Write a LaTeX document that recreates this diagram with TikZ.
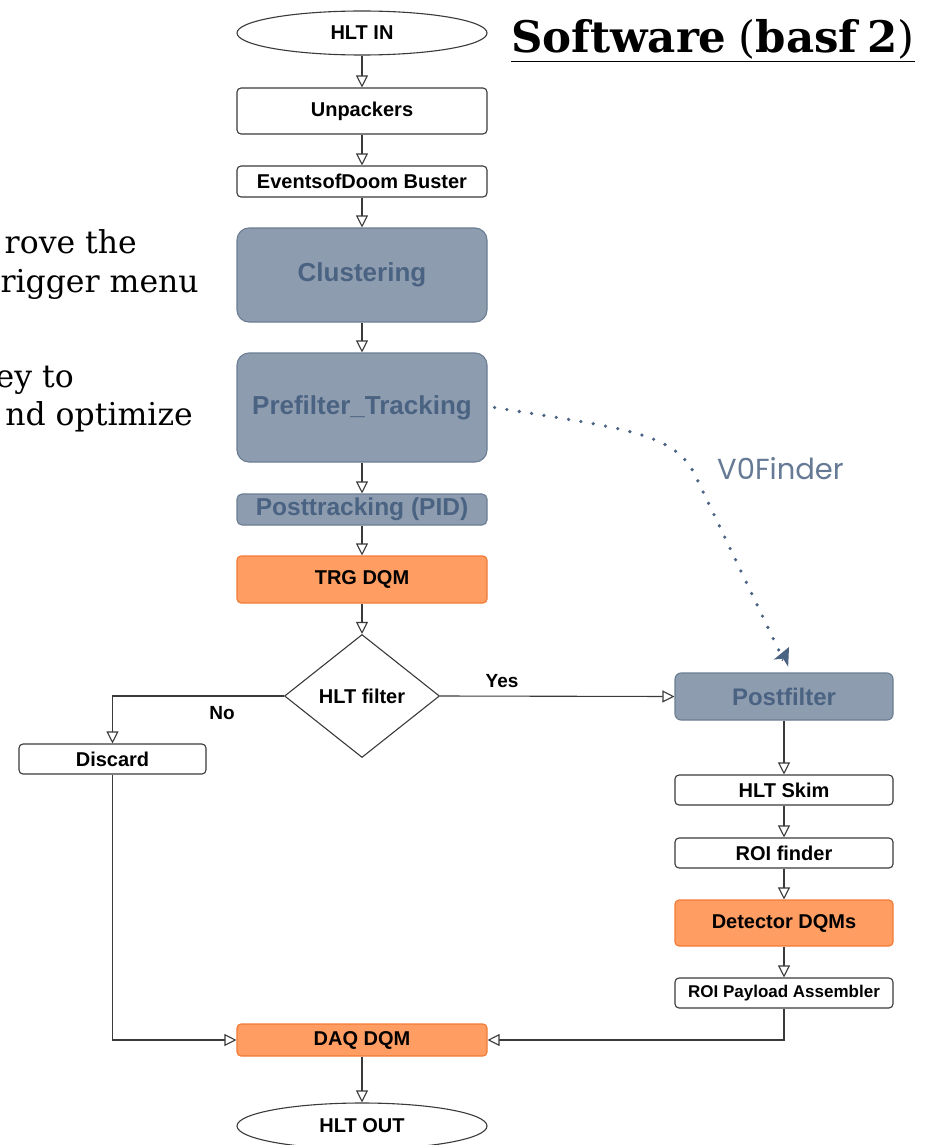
\documentclass[tikz,border=0pt]{standalone}
\usepackage{fontspec}
\setmainfont{Liberation Sans}
\newfontfamily\serifface{DejaVu Serif}
\newfontfamily\roundface{Poppins}
\usetikzlibrary{arrows.meta,shapes.geometric}

\definecolor{bluefill}{HTML}{8E9CAF}
\definecolor{blueline}{HTML}{6B7D93}
\definecolor{bluetext}{HTML}{4B6382}
\definecolor{orangefill}{HTML}{FF9D62}
\definecolor{orangeline}{HTML}{F27B36}
\definecolor{linegray}{HTML}{3A3A3A}

\tikzset{
  base/.style={draw=linegray, line width=1.1pt, fill=white, inner sep=0pt,
    font=\bfseries\fontsize{20}{20}\selectfont},
  plainbox/.style={base, rectangle, rounded corners=4pt, minimum width=250pt},
  bluebox/.style={plainbox, fill=bluefill, draw=blueline, text=bluetext,
    rounded corners=12pt, font=\bfseries\fontsize{26}{26}\selectfont},
  orangebox/.style={plainbox, fill=orangefill, draw=orangeline},
  sidebox/.style={plainbox, minimum width=218pt},
  terminal/.style={base, ellipse, minimum width=250pt},
  decision/.style={base, diamond, minimum width=155pt, minimum height=123pt},
  flow/.style={draw=linegray, line width=1.1pt,
    -{Triangle[open, length=12pt, width=12pt, fill=white]}},
  lbl/.style={font=\bfseries\fontsize{19}{19}\selectfont},
  slidetext/.style={font=\serifface\fontsize{31.5}{38}\selectfont, anchor=base east, inner sep=0pt},
}

\begin{document}
\begin{tikzpicture}[x=1pt, y=-1pt]
\useasboundingbox (0,0) rectangle (933,1145);
\clip (0,0) rectangle (933,1145);

% slide text on the left, running off the edge
\node[slidetext] (t1) at (137,253) {rove the};
\node[slidetext] (t2) at (199,292) {rigger menu};
\node[slidetext] (t3) at (74,387) {ey to};
\node[slidetext] (t4) at (193,425) {nd optimize};

% heading
\node[anchor=base west, inner sep=0pt] (title) at (511,53)
  {\serifface\bfseries\fontsize{43.5}{44}\selectfont\underline{Software\hbox to 12pt{}{\mdseries(}basf\hbox to 10pt{}2{\mdseries)}}};

% main chain
\node[terminal, minimum height=44pt] (hltin) at (362,33) {HLT IN};
\node[plainbox, minimum height=46pt] (unp) at (362,111) {Unpackers};
\node[plainbox, minimum height=31pt] (eod) at (362,181.5) {EventsofDoom Buster};
\node[bluebox, minimum height=94pt] (clus) at (362,275) {Clustering};
\node[bluebox, minimum height=109pt] (pre) at (362,407.5) {Prefilter\_Tracking};
\node[bluebox, minimum height=31pt, rounded corners=5pt,
      font=\bfseries\fontsize{24.5}{24.5}\selectfont] (ptr) at (362,509.5) {Posttracking (PID)};
\node[orangebox, minimum height=47pt] (trg) at (362,579.5) {TRG DQM};
\node[decision] (filt) at (362,696) {HLT filter};

% accepted branch
\node[bluebox, minimum width=218pt, minimum height=47pt, rounded corners=6pt,
      font=\bfseries\fontsize{24}{24}\selectfont] (pf) at (784,696.5) {Postfilter};
\node[sidebox, minimum height=30pt] (skim) at (784,790) {HLT Skim};
\node[sidebox, minimum height=30pt] (roi) at (784,853) {ROI finder};
\node[sidebox, fill=orangefill, draw=orangeline, minimum height=46pt] (det) at (784,923) {Detector DQMs};
\node[sidebox, minimum height=30pt, font=\bfseries\fontsize{17}{17}\selectfont] (pay) at (784,993) {ROI Payload Assembler};

% rejected branch
\node[plainbox, minimum width=187pt, minimum height=30pt] (disc) at (112.5,759) {Discard};

% output
\node[orangebox, minimum height=32pt] (daq) at (362,1040) {DAQ DQM};
\node[terminal, minimum height=46pt] (hltout) at (362,1126) {HLT OUT};

% connectors
\draw[flow] (hltin) -- (unp);
\draw[flow] (unp) -- (eod);
\draw[flow] (eod) -- (clus);
\draw[flow] (clus) -- (pre);
\draw[flow] (pre) -- (ptr);
\draw[flow] (ptr) -- (trg);
\draw[flow] (trg) -- (filt);
\draw[flow] (filt.east) -- (pf.west);
\draw[flow] (filt.west) -| (disc.north);
\draw[flow] (pf) -- (skim);
\draw[flow] (skim) -- (roi);
\draw[flow] (roi) -- (det);
\draw[flow] (det) -- (pay);
\draw[flow] (disc.south) |- (daq.west);
\draw[flow] (pay.south) |- (daq.east);
\draw[flow] (daq) -- (hltout);

\node[lbl] (yes) at (502,681) {Yes};
\node[lbl] (no) at (222,713) {No};

% V0 finder hand-off
\coordinate (vs) at ([xshift=7pt]pre.east);
\coordinate (ve) at (789,647);
\draw[bluetext, line width=3.6pt, line cap=round, dash pattern=on 0pt off 12.5pt]
  (vs) .. controls (620,428) and (675,432) .. (695,475) -- ([shift={(-6pt,-12pt)}]ve);
\draw[bluetext, line width=1pt, -{Stealth[length=18pt, width=16pt, inset=5pt]}]
  ([shift={(-7pt,-14pt)}]ve) -- (ve);
\node[font=\roundface\fontsize{29}{29}\selectfont, text=bluetext!85!white, anchor=west, inner sep=0pt] (v0) at (717,469) {V0Finder};
\end{tikzpicture}
\end{document}
